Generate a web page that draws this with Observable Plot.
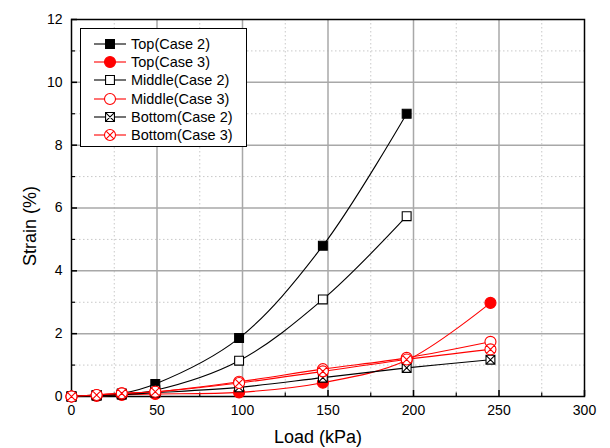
<!DOCTYPE html>
<html>
<head>
<meta charset="utf-8">
<script src="https://cdn.jsdelivr.net/npm/d3@7"></script>
<script src="https://cdn.jsdelivr.net/npm/@observablehq/plot@0.6"></script>
<style>
  html, body { margin: 0; padding: 0; background: #fff; }
  #wrap { position: relative; width: 610px; height: 448px; font-family: "Liberation Sans", Arial, sans-serif; }
  #legend { position: absolute; left: 80px; top: 28px; width: 167px; height: 119px; border: 1px solid #000; background: #fff; box-sizing: border-box; }
  #legend .row { position: absolute; left: 0; height: 18px; display: flex; align-items: center; font-size: 14.5px; color: #000; white-space: nowrap; }
  #legend svg { display: block; margin-left: 12px; margin-right: 4px; }
</style>
</head>
<body>
<div id="wrap"></div>
<script>
// ---- data ----
const loads = [0, 14.7, 29.4, 49, 98, 147, 196, 245];
const topCase2 = [0, 0.05, 0.1, 0.4, 1.86, 4.8, 9.0];
const topCase3 = [0, 0.02, 0.05, 0.08, 0.13, 0.44, 1.15, 2.98];
const middleCase2 = [0, 0.03, 0.07, 0.2, 1.14, 3.09, 5.74];
const middleCase3 = [0, 0.05, 0.1, 0.15, 0.47, 0.87, 1.23, 1.74];
const bottomCase2 = [0, 0.03, 0.06, 0.12, 0.29, 0.6, 0.91, 1.17];
const bottomCase3 = [0, 0.05, 0.1, 0.15, 0.43, 0.8, 1.18, 1.5];
const seriesNames = ["Top(Case 2)", "Top(Case 3)", "Middle(Case 2)", "Middle(Case 3)", "Bottom(Case 2)", "Bottom(Case 3)"];
const seriesValues = [topCase2, topCase3, middleCase2, middleCase3, bottomCase2, bottomCase3];
const xTicks = [0, 50, 100, 150, 200, 250, 300];
const xMinor = [25, 75, 125, 175, 225, 275];
const yTicks = [0, 2, 4, 6, 8, 10, 12];
const yMinor = [1, 3, 5, 7, 9, 11];
const xLabel = "Load (kPa)";
const yLabel = "Strain (%)";

// ---- custom symbols ----
const crossSquare = {
  draw(ctx, size) {
    const s = Math.sqrt(size) / 2;
    ctx.moveTo(-s, -s); ctx.lineTo(s, -s); ctx.lineTo(s, s); ctx.lineTo(-s, s); ctx.closePath();
    ctx.moveTo(-s, -s); ctx.lineTo(s, s);
    ctx.moveTo(s, -s); ctx.lineTo(-s, s);
  }
};
const crossCircle = {
  draw(ctx, size) {
    const r = Math.sqrt(size / Math.PI);
    ctx.moveTo(r, 0); ctx.arc(0, 0, r, 0, 2 * Math.PI);
    const k = r * Math.SQRT1_2;
    ctx.moveTo(-k, -k); ctx.lineTo(k, k);
    ctx.moveTo(k, -k); ctx.lineTo(-k, k);
  }
};
const styles = [
  {color: "#000", symbol: "square", fill: "#000", r: 5},
  {color: "#ff0000", symbol: "circle", fill: "#ff0000", r: 5.5},
  {color: "#000", symbol: "square", fill: "#fff", r: 5},
  {color: "#ff0000", symbol: "circle", fill: "#fff", r: 5.5},
  {color: "#000", symbol: crossSquare, fill: "#fff", r: 5},
  {color: "#ff0000", symbol: crossCircle, fill: "#fff", r: 5.5}
];

const series = seriesNames.map((name, i) => seriesValues[i].map((v, j) => ({name, load: loads[j], strain: v})));

const W = 610, H = 448, mL = 71, mR = 26, mT = 19, mB = 52;
const fw = W - mL - mR, fh = H - mT - mB;

const marks = [
  Plot.ruleX(xMinor, {stroke: "#c8c8c8", strokeWidth: 1, strokeDasharray: "1.5,2.5"}),
  Plot.ruleY(yMinor, {stroke: "#c8c8c8", strokeWidth: 1, strokeDasharray: "1.5,2.5"}),
  Plot.ruleX(xTicks.slice(1, -1), {stroke: "#a8a8a8", strokeWidth: 1.5}),
  Plot.ruleY(yTicks.slice(1, -1), {stroke: "#a8a8a8", strokeWidth: 1.5}),
  Plot.frame({stroke: "#000", strokeWidth: 1.5}),
  // inward ticks
  Plot.ruleX(xTicks, {stroke: "#000", strokeWidth: 1.5, insetTop: fh - 6}),
  Plot.ruleX(xMinor, {stroke: "#000", strokeWidth: 1.2, insetTop: fh - 3.5}),
  Plot.ruleY(yTicks, {stroke: "#000", strokeWidth: 1.5, insetRight: fw - 6}),
  Plot.ruleY(yMinor, {stroke: "#000", strokeWidth: 1.2, insetRight: fw - 4}),
  Plot.axisX(xTicks, {tickSize: 0, tickPadding: 9, fontSize: 14, label: null}),
  Plot.axisY(yTicks, {tickSize: 0, tickPadding: 9, fontSize: 14, label: null}),
  Plot.text([xLabel], {frameAnchor: "bottom", lineAnchor: "middle", textAnchor: "middle", dx: -10, dy: 41, fontSize: 18, text: d => d}),
  Plot.text([yLabel], {frameAnchor: "left", lineAnchor: "middle", textAnchor: "middle", dx: -41, dy: 18, rotate: -90, fontSize: 18, text: d => d})
];
series.forEach((s, i) => {
  marks.push(Plot.line(s, {x: "load", y: "strain", stroke: styles[i].color, strokeWidth: 1.1, curve: "catmull-rom"}));
});
series.forEach((s, i) => {
  const st = styles[i];
  marks.push(Plot.dot(s, {x: "load", y: "strain", symbol: () => st.symbol, r: st.r, stroke: st.color, fill: st.fill, strokeWidth: 1.1}));
});

const chart = Plot.plot({
  width: W,
  height: H,
  marginLeft: mL,
  marginRight: mR,
  marginTop: mT,
  marginBottom: mB,
  style: {fontFamily: "'Liberation Sans', Arial, sans-serif", fontSize: "14px", color: "#000", background: "#fff", overflow: "visible"},
  x: {domain: [0, 300]},
  y: {domain: [0, 12]},
  symbol: {type: "identity"},
  marks
});
const wrap = document.getElementById("wrap");
wrap.appendChild(chart);

// ---- legend ----
const legend = document.createElement("div");
legend.id = "legend";
seriesNames.forEach((name, i) => {
  const st = styles[i];
  const row = document.createElement("div");
  row.className = "row";
  row.style.top = (6 + i * 18.2) + "px";
  const svg = d3.create("svg").attr("width", 34).attr("height", 14);
  svg.append("line").attr("x1", 1).attr("x2", 33).attr("y1", 7).attr("y2", 7).attr("stroke", st.color).attr("stroke-width", 1.1);
  const sym = typeof st.symbol === "string" ? (st.symbol === "square" ? d3.symbolSquare : d3.symbolCircle) : st.symbol;
  svg.append("path").attr("transform", "translate(17,7)")
    .attr("d", d3.symbol(sym, st.r * st.r * Math.PI)())
    .attr("fill", st.fill).attr("stroke", st.color).attr("stroke-width", 1.1);
  row.appendChild(svg.node());
  const span = document.createElement("span");
  span.textContent = name;
  row.appendChild(span);
  legend.appendChild(row);
});
wrap.appendChild(legend);
</script>
</body>
</html>
